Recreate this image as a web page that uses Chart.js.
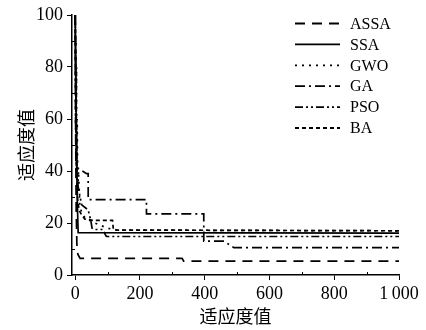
<!DOCTYPE html>
<html>
<head>
<meta charset="utf-8">
<script src="https://cdn.jsdelivr.net/npm/chart.js@4/dist/chart.umd.min.js"></script>
<style>
 body{margin:0;background:#fff}
</style>
</head>
<body>
<canvas id="c" width="426" height="330"></canvas>
<script>

const names = ["ASSA","SSA","GWO","GA","PSO","BA"]

const assaX = [0,1,3,5,8,15,330,335,1000]
const assaY = [100,60,25,12,8,6.4,6.4,5.3,5.3]

const ssaX = [0,3,6,9,1000]
const ssaY = [100,60,30,16.3,16.1]

const gwoX = [0,1,2,3,4,5,6,8,10,14,20,30,45,60,80,100,130,1000]
const gwoY = [97,55,90,45,80,38,60,32,40,27,24,22,21,20,19,18,17.3,17]

const gaX = [0,2,4,10,35,40,40,220,220,397,397,460,490,1000]
const gaY = [100,70,41,41,39,39,29,29,23.5,23.5,13,13,10.5,10.5]

const psoX = [0,2,5,10,15,20,40,48,52,58,85,95,97,1000]
const psoY = [100,60,38,33,30,27,25,21,18,17.5,17.5,15,14.8,14.8]

const baX = [0,2,5,8,12,20,30,56,115,118,1000]
const baY = [100,55,35,28,25,23,21.5,21,21,17.3,17]

const xTicks = [0,100,200,300,400,500,600,700,800,900,1000]
const yTicks = [0,10,20,30,40,50,60,70,80,90,100]

const dashes = [[10,7],[],[2,5],[10,4,2,4],[8,3,2,3,2,3],[4,3]]

const serif = "'Liberation Serif', 'Noto Sans CJK SC', serif"

function pts(xs, ys){
 return xs.map((x,i)=>({x:x, y:ys[i]}))
}

const series = [
 pts(assaX,assaY), pts(ssaX,ssaY), pts(gwoX,gwoY),
 pts(gaX,gaY), pts(psoX,psoY), pts(baX,baY)
]

// legend drawn inside the plot, top right
const legendPlugin = {
 id:"innerLegend",
 afterDraw(chart){
  const ctx = chart.ctx
  const x0 = 295, x1 = 340, tx = 350
  ctx.save()
  ctx.font = "16px " + serif
  ctx.textBaseline = "middle"
  ctx.fillStyle = "#000"
  chart.data.datasets.forEach((ds,i)=>{
   const y = 23.5 + i*20.9
   ctx.beginPath()
   ctx.setLineDash(ds.borderDash)
   ctx.lineWidth = 1.8
   ctx.strokeStyle = "#000"
   ctx.moveTo(x0,y)
   ctx.lineTo(x1,y)
   ctx.stroke()
   ctx.fillText(ds.label, tx, y+1)
  })
  ctx.restore()
 }
}

// small inner ticks at odd positions
const minorTicks = {
 id:"minorTicks",
 afterDraw(chart){
  const ctx = chart.ctx
  const xs = chart.scales.x, ys = chart.scales.y
  const a = chart.chartArea
  ctx.save()
  ctx.strokeStyle = "#000"
  ctx.lineWidth = 1
  xTicks.filter(v=>v%200!==0).forEach(v=>{
   const p = Math.round(xs.getPixelForValue(v))+0.5
   ctx.beginPath(); ctx.moveTo(p,a.bottom); ctx.lineTo(p,a.bottom-3); ctx.stroke()
  })
  yTicks.filter(v=>v%20!==0).forEach(v=>{
   const p = Math.round(ys.getPixelForValue(v))+0.5
   ctx.beginPath(); ctx.moveTo(a.left,p); ctx.lineTo(a.left+3,p); ctx.stroke()
  })
  ctx.restore()
 }
}

new Chart(document.getElementById("c"),{
 type:"line",
 data:{
  datasets: series.map((d,i)=>({
   label:names[i],
   data:d,
   borderColor:"#000",
   borderWidth:1.7,
   borderDash:dashes[i],
   pointRadius:0,
   tension:0,
   fill:false
  }))
 },
 options:{
  responsive:false,
  animation:false,
  layout:{padding:{top:15,right:27,left:0,bottom:0}},
  plugins:{legend:{display:false},tooltip:{enabled:false}},
  scales:{
   x:{
    type:"linear",
    min:-10,
    max:1000,
    afterBuildTicks(s){ s.ticks = xTicks.map(v=>({value:v})) },
    afterFit(s){ s.height = 55 },
    border:{color:"#000",width:1.5},
    grid:{drawOnChartArea:false,tickLength:5,
     tickColor:c=> c.tick && c.tick.value%200===0 ? "#000" : "rgba(0,0,0,0)"},
    ticks:{color:"#000",padding:3,maxRotation:0,autoSkip:false,
     font:{family:serif,size:18},
     callback:v=> v%200!==0 ? "" : (v===1000 ? "1\u2009000" : String(v))},
    title:{display:true,text:"适应度值",color:"#000",
     font:{family:serif,size:18},padding:{top:0,bottom:1}}
   },
   y:{
    min:0,
    max:100,
    afterBuildTicks(s){ s.ticks = yTicks.map(v=>({value:v})) },
    afterFit(s){ s.width = 72 },
    border:{color:"#000",width:1.5},
    grid:{drawOnChartArea:false,tickLength:5,
     tickColor:c=> c.tick && c.tick.value%20===0 ? "#000" : "rgba(0,0,0,0)"},
    ticks:{color:"#000",padding:4,autoSkip:false,
     font:{family:serif,size:18},
     callback:v=> v%20!==0 ? "" : String(v)},
    title:{display:true,text:"适应度值",color:"#000",
     font:{family:serif,size:18},padding:{top:17,bottom:0}}
   }
  }
 },
 plugins:[legendPlugin,minorTicks]
})

</script>
</body>
</html>
